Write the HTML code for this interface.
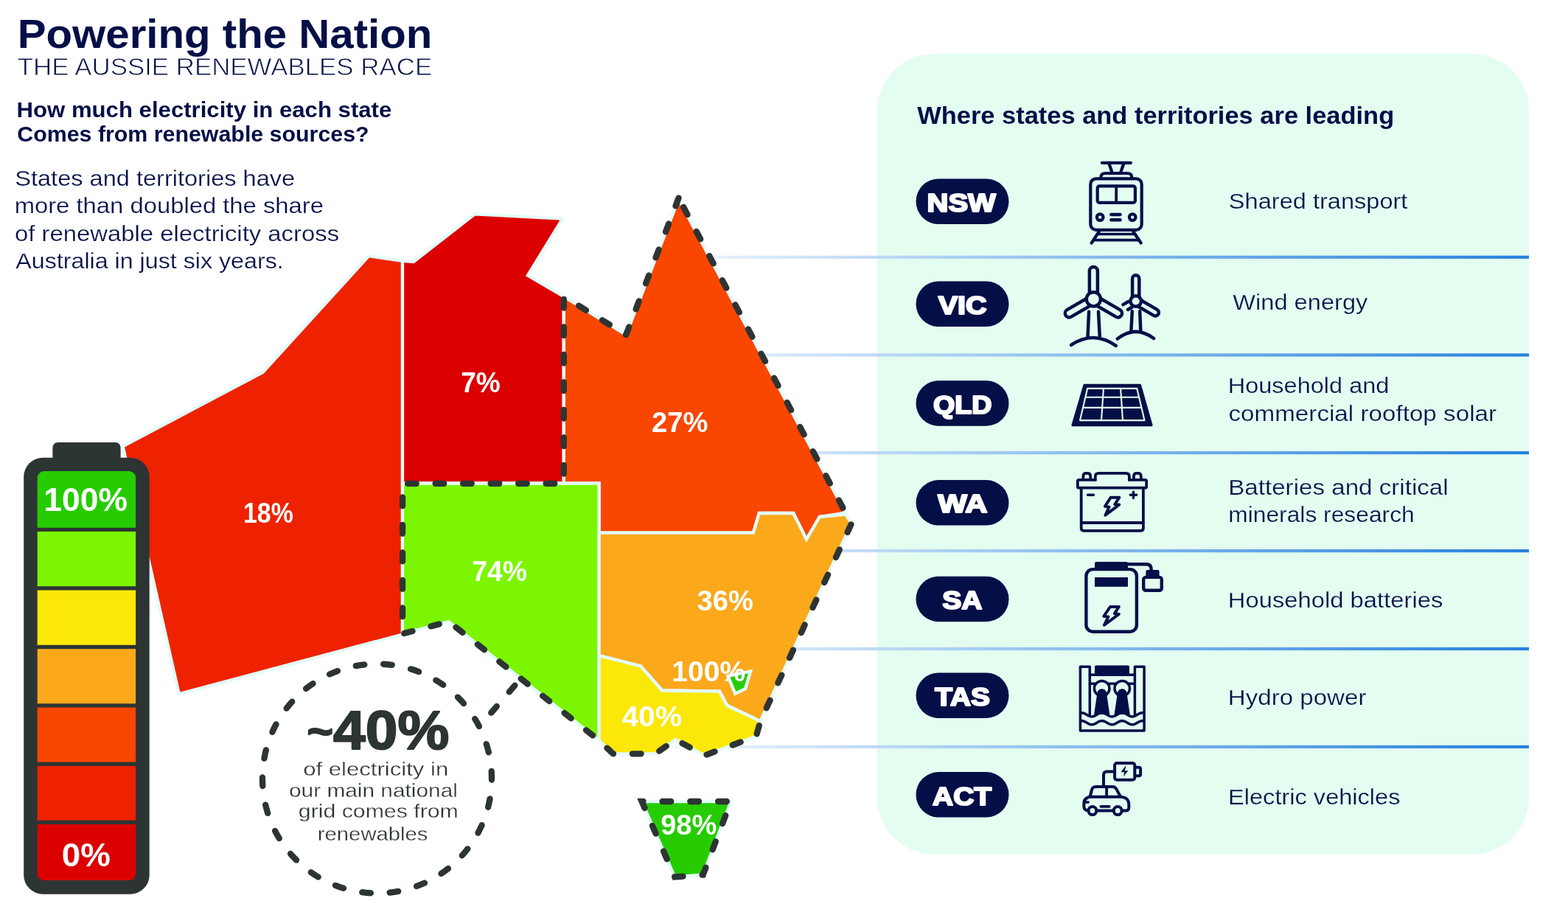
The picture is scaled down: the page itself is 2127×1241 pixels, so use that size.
<!DOCTYPE html>
<html lang="en">
<head>
<meta charset="utf-8">
<title>Powering the Nation - The Aussie Renewables Race</title>
<style>
html,body{margin:0;padding:0;background:#fff;}
body{width:2127px;height:1241px;overflow:hidden;font-family:"Liberation Sans",sans-serif;}
svg{display:block;position:absolute;left:0;top:0;}
text{font-family:"Liberation Sans",sans-serif;}
.b{font-weight:bold;}
.nv{fill:#040f47;}
.w{fill:#fff;font-weight:bold;}
.st{stroke:#e4fbfa;stroke-width:4.3;stroke-linejoin:miter;}
.dash{fill:none;stroke:#2d3434;stroke-width:8.3;stroke-linecap:round;stroke-linejoin:round;stroke-dasharray:11.7 25.8;}
.ic{fill:none;stroke:#040f47;stroke-linecap:round;stroke-linejoin:round;}
.icf{fill:#040f47;stroke:none;}
</style>
</head>
<body>
<svg width="2127" height="1241" viewBox="0 0 2127 1241">
<defs>
<linearGradient id="lg" gradientUnits="userSpaceOnUse" x1="830" y1="0" x2="2074" y2="0">
<stop offset="0" stop-color="#ffffff"/>
<stop offset="0.5" stop-color="#8dbeee"/>
<stop offset="1" stop-color="#2780dd"/>
</linearGradient>
</defs>
<rect width="2127" height="1241" fill="#ffffff"/>

<!-- panel -->
<rect x="1190" y="73.3" width="884" height="1085.4" rx="77" ry="77" fill="#e3fdf0"/>
<rect x="905" y="346.70" width="1169" height="4.2" fill="url(#lg)"/>
<rect x="905" y="479.40" width="1169" height="4.2" fill="url(#lg)"/>
<rect x="905" y="612.00" width="1169" height="4.2" fill="url(#lg)"/>
<rect x="905" y="745.00" width="1169" height="4.2" fill="url(#lg)"/>
<rect x="905" y="877.90" width="1169" height="4.2" fill="url(#lg)"/>
<rect x="905" y="1010.80" width="1169" height="4.2" fill="url(#lg)"/>
<!-- map -->
<g class="st">
<polygon points="166.6,605.3 356.4,505.0 500.3,347.1 546.0,353.8 546.0,860.5 242.8,941.2" fill="#ee2200"/>
<polygon points="546.0,353.8 561.0,355.0 644.0,290.3 763.2,296.7 715.9,373.4 764.8,402.2 764.8,655.5 546.0,655.5" fill="#dd0000"/>
<polygon points="764.8,402.2 849.2,454.1 920.6,270.0 1147.0,695.5 1111.8,701.0 1094.0,731.6 1076.2,696.0 1029.8,696.0 1021.9,722.7 812.6,722.7 812.6,655.5 764.8,655.5" fill="#f94600"/>
<polygon points="546.0,655.5 812.6,655.5 812.6,1004.2 608.6,843.0 546.0,859.7" fill="#7cf500"/>
<polygon points="812.6,722.7 1021.9,722.7 1029.8,696.0 1076.2,696.0 1094.0,731.6 1111.8,701.0 1147.0,697.6 1155.2,709.8 1031.4,978.3 986.2,956.8 976.1,937.7 898.2,936.5 868.9,903.4 812.6,889.1" fill="#fba81b"/>
<polygon points="812.6,889.1 868.9,903.4 898.2,936.5 976.1,937.7 986.2,956.8 1031.4,978.3 1025.7,998.6 955.8,1024.6 916.3,1003.1 889.2,1022.3 831.6,1022.3 812.6,1004.2" fill="#fbe808"/>
<polygon points="870.6,1087.0 991.5,1087.0 953.7,1186.5 915.3,1189.5" fill="#26cc00"/>
<polygon points="987.4,916.9 1018.0,910.6 1011.0,934.3 997.3,940.8" fill="#26cc00" stroke-width="4.4"/>
</g>
<polyline class="dash" points="764.8,402.2 764.8,655.8 546.0,655.8 546.0,859.7 608.6,843.0 812.6,1004.2 831.6,1022.3 889.2,1022.3 916.3,1003.1 955.8,1024.6 1025.7,998.6 1031.4,978.3 1155.2,709.8 1147.0,695.5 920.6,268.5" stroke-dashoffset="-3.6"/>
<polyline class="dash" points="920.6,268.5 849.2,454.1 764.8,402.2"/>
<path class="dash" d="M880,1087 L991.5,1087 L953.7,1186.5 L915.3,1189.5 L870.6,1087 Z" pathLength="375" stroke-dashoffset="19.1" style="stroke-linejoin:miter"/>
<circle class="dash" cx="511.5" cy="1056" r="155.5" pathLength="975" stroke-dashoffset="10.1"/>
<line class="dash" x1="698.4" y1="929.6" x2="666.2" y2="966.7"/>
<text class="w" x="329.98" y="709.0" font-size="38.8" textLength="67.80" lengthAdjust="spacingAndGlyphs">18%</text>
<text class="w" x="625.24" y="532.0" font-size="38.8" textLength="53.58" lengthAdjust="spacingAndGlyphs">7%</text>
<text class="w" x="884.11" y="586.1" font-size="38.8" textLength="76.43" lengthAdjust="spacingAndGlyphs">27%</text>
<text class="w" x="640.13" y="788.0" font-size="38.8" textLength="74.80" lengthAdjust="spacingAndGlyphs">74%</text>
<text class="w" x="945.60" y="827.9" font-size="38.8" textLength="76.23" lengthAdjust="spacingAndGlyphs">36%</text>
<text class="w" x="911.36" y="924.0" font-size="38.8" textLength="99.69" lengthAdjust="spacingAndGlyphs">100%</text>
<text class="w" x="843.40" y="984.8" font-size="38.8" textLength="81.78" lengthAdjust="spacingAndGlyphs">40%</text>
<text class="w" x="896.21" y="1131.9" font-size="38.8" textLength="76.13" lengthAdjust="spacingAndGlyphs">98%</text>
<!-- battery -->
<path d="M71.4,624 V607 a7,7 0 0 1 7,-7 H156.6 a7,7 0 0 1 7,7 V624 Z" fill="#2d3434"/>
<rect x="32.2" y="620.7" width="170.5" height="592" rx="26" ry="26" fill="#2d3434"/>
<path d="M50.7,715.8 V648.1 a9,9 0 0 1 9,-9 H175.1 a9,9 0 0 1 9,9 V715.8 Z" fill="#26cc00"/>
<rect x="50.7" y="720.9" width="133.4" height="74.3" fill="#7cf500"/>
<rect x="50.7" y="800.5" width="133.4" height="74.3" fill="#fbe808"/>
<rect x="50.7" y="880.1" width="133.4" height="74.2" fill="#fba81b"/>
<rect x="50.7" y="959.6" width="133.4" height="73.9" fill="#f94600"/>
<rect x="50.7" y="1038.9" width="133.4" height="73.7" fill="#ee2200"/>
<path d="M50.7,1118.0 V1185.0 a9,9 0 0 0 9,9 H175.1 a9,9 0 0 0 9,-9 V1118.0 Z" fill="#dd0000"/>
<text class="w" x="59.22" y="693.2" font-size="43.8" textLength="113.71" lengthAdjust="spacingAndGlyphs">100%</text>
<text class="w" x="83.77" y="1174.8" font-size="43.8" textLength="66.08" lengthAdjust="spacingAndGlyphs">0%</text>
<!-- headings -->
<text class="b nv" x="23.66" y="65.1" font-size="55.8" textLength="562.75" lengthAdjust="spacingAndGlyphs">Powering the Nation</text>
<text class="nv" x="23.76" y="101.9" font-size="34.0" textLength="562.40" lengthAdjust="spacingAndGlyphs" stroke="#fff" stroke-width="0.8">THE AUSSIE RENEWABLES RACE</text>
<text class="b nv" x="22.55" y="158.9" font-size="29.8" textLength="508.72" lengthAdjust="spacingAndGlyphs">How much electricity in each state</text>
<text class="b nv" x="23.25" y="191.9" font-size="29.8" textLength="477.32" lengthAdjust="spacingAndGlyphs">Comes from renewable sources?</text>
<text class="nv" x="20.28" y="252.1" font-size="29.8" textLength="379.94" lengthAdjust="spacingAndGlyphs" stroke="#fff" stroke-width="0.25">States and territories have</text>
<text class="nv" x="19.65" y="289.1" font-size="29.8" textLength="419.38" lengthAdjust="spacingAndGlyphs" stroke="#fff" stroke-width="0.25">more than doubled the share</text>
<text class="nv" x="19.97" y="326.5" font-size="29.8" textLength="440.15" lengthAdjust="spacingAndGlyphs" stroke="#fff" stroke-width="0.25">of renewable electricity across</text>
<text class="nv" x="21.30" y="363.9" font-size="29.8" textLength="363.41" lengthAdjust="spacingAndGlyphs" stroke="#fff" stroke-width="0.25">Australia in just six years.</text>
<g fill="#2d3434">
<text class="b" x="416.50" y="1016.1" font-size="75" textLength="192.81" lengthAdjust="spacingAndGlyphs" stroke="#2d3434" stroke-width="2" stroke-linejoin="round"><tspan font-size="58" dy="-4.5">~</tspan><tspan dy="4.5">40%</tspan></text>
<text class="" x="411.23" y="1052.4" font-size="26.5" textLength="197.02" lengthAdjust="spacingAndGlyphs" stroke="#fff" stroke-width="0.3">of electricity in</text>
<text class="" x="391.97" y="1080.6" font-size="26.5" textLength="228.90" lengthAdjust="spacingAndGlyphs" stroke="#fff" stroke-width="0.3">our main national</text>
<text class="" x="404.85" y="1109.3" font-size="26.5" textLength="216.91" lengthAdjust="spacingAndGlyphs" stroke="#fff" stroke-width="0.3">grid comes from</text>
<text class="" x="430.87" y="1140.2" font-size="26.5" textLength="149.54" lengthAdjust="spacingAndGlyphs" stroke="#fff" stroke-width="0.3">renewables</text>
</g>
<!-- panel content -->
<text class="b nv" x="1244.20" y="167.5" font-size="32.8" textLength="647.00" lengthAdjust="spacingAndGlyphs">Where states and territories are leading</text>
<rect x="1242.5" y="242.50" width="126" height="61.5" rx="30.75" ry="30.75" fill="#040f47"/>
<text class="w" x="1257.60" y="286.9" font-size="34.8" textLength="93.23" lengthAdjust="spacingAndGlyphs" stroke="#fff" stroke-width="2.2" stroke-linejoin="round">NSW</text>
<rect x="1242.5" y="381.50" width="126" height="61.5" rx="30.75" ry="30.75" fill="#040f47"/>
<text class="w" x="1272.70" y="425.9" font-size="34.8" textLength="65.95" lengthAdjust="spacingAndGlyphs" stroke="#fff" stroke-width="2.2" stroke-linejoin="round">VIC</text>
<rect x="1242.5" y="516.20" width="126" height="61.5" rx="30.75" ry="30.75" fill="#040f47"/>
<text class="w" x="1265.92" y="560.6" font-size="34.8" textLength="79.48" lengthAdjust="spacingAndGlyphs" stroke="#fff" stroke-width="2.2" stroke-linejoin="round">QLD</text>
<rect x="1242.5" y="651.05" width="126" height="61.5" rx="30.75" ry="30.75" fill="#040f47"/>
<text class="w" x="1272.20" y="695.4" font-size="34.8" textLength="67.40" lengthAdjust="spacingAndGlyphs" stroke="#fff" stroke-width="2.2" stroke-linejoin="round">WA</text>
<rect x="1242.5" y="781.70" width="126" height="61.5" rx="30.75" ry="30.75" fill="#040f47"/>
<text class="w" x="1278.29" y="826.1" font-size="34.8" textLength="54.15" lengthAdjust="spacingAndGlyphs" stroke="#fff" stroke-width="2.2" stroke-linejoin="round">SA</text>
<rect x="1242.5" y="912.40" width="126" height="61.5" rx="30.75" ry="30.75" fill="#040f47"/>
<text class="w" x="1268.30" y="956.8" font-size="34.8" textLength="74.62" lengthAdjust="spacingAndGlyphs" stroke="#fff" stroke-width="2.2" stroke-linejoin="round">TAS</text>
<rect x="1242.5" y="1047.05" width="126" height="61.5" rx="30.75" ry="30.75" fill="#040f47"/>
<text class="w" x="1265.09" y="1091.5" font-size="34.8" textLength="79.86" lengthAdjust="spacingAndGlyphs" stroke="#fff" stroke-width="2.2" stroke-linejoin="round">ACT</text>
<text class="nv" x="1666.88" y="283.3" font-size="29.0" textLength="242.51" lengthAdjust="spacingAndGlyphs" stroke="#e3fdf0" stroke-width="0.25">Shared transport</text>
<text class="nv" x="1672.20" y="420.2" font-size="29.0" textLength="183.20" lengthAdjust="spacingAndGlyphs" stroke="#e3fdf0" stroke-width="0.25">Wind energy</text>
<text class="nv" x="1665.66" y="533.3" font-size="29.0" textLength="218.77" lengthAdjust="spacingAndGlyphs" stroke="#e3fdf0" stroke-width="0.25">Household and</text>
<text class="nv" x="1666.46" y="571.1" font-size="29.0" textLength="363.60" lengthAdjust="spacingAndGlyphs" stroke="#e3fdf0" stroke-width="0.25">commercial rooftop solar</text>
<text class="nv" x="1666.21" y="670.8" font-size="29.0" textLength="298.47" lengthAdjust="spacingAndGlyphs" stroke="#e3fdf0" stroke-width="0.25">Batteries and critical</text>
<text class="nv" x="1666.21" y="708.4" font-size="29.0" textLength="252.57" lengthAdjust="spacingAndGlyphs" stroke="#e3fdf0" stroke-width="0.25">minerals research</text>
<text class="nv" x="1665.84" y="823.8" font-size="29.0" textLength="291.48" lengthAdjust="spacingAndGlyphs" stroke="#e3fdf0" stroke-width="0.25">Household batteries</text>
<text class="nv" x="1665.81" y="956.2" font-size="29.0" textLength="187.65" lengthAdjust="spacingAndGlyphs" stroke="#e3fdf0" stroke-width="0.25">Hydro power</text>
<text class="nv" x="1666.06" y="1091.0" font-size="29.0" textLength="233.46" lengthAdjust="spacingAndGlyphs" stroke="#e3fdf0" stroke-width="0.25">Electric vehicles</text>
<!-- icons -->
<g class="ic" stroke-width="4.2">
<path d="M1494.8,220.8 H1533.9"/>
<path d="M1504.7,222.8 L1508.4,233.5 M1524,222.8 L1520.3,233.5"/>
<path d="M1493.4,240.5 Q1493.4,235 1499.5,235 H1529.2 Q1535.3,235 1535.3,240.5"/>
<rect x="1479.3" y="242.4" width="69.4" height="69.4" rx="7.5" ry="7.5"/>
<rect x="1488.7" y="252.4" width="51.2" height="22.4" rx="2.5" ry="2.5"/>
<path d="M1514.2,252.4 V274.8" stroke-width="3.8"/>
<circle cx="1492.2" cy="294.6" r="4.3"/>
<circle cx="1536.2" cy="294.6" r="4.3"/>
<path d="M1507.3,291 H1519.6 M1507.3,298.2 H1519.6" stroke-width="4.4"/>
<path d="M1490.6,314.5 L1480.7,329.5 M1537.6,314.5 L1547.7,329.5"/>
<path d="M1490,317.5 H1538 M1484.5,325.6 H1543.8" stroke-width="3.6"/>
</g>
<g class="ic" stroke-width="4.5">
<g transform="translate(1540.7,408.5)">
<rect x="-4.6" y="-35.3" width="9.2" height="35.3" rx="4.6" ry="4.6"/>
<rect x="-4.6" y="-35.3" width="9.2" height="35.3" rx="4.6" ry="4.6" transform="rotate(120)"/>
<path d="M-4.6,-15 V-9 M4.6,-17.2 V-9" transform="rotate(-120)"/>
<circle cx="0" cy="0" r="7.3" fill="#e3fdf0"/>
</g>
<path d="M1535.8,422.3 L1534.4,448.5 M1546.2,422.3 L1547.3,448.5"/>
<path d="M1515.9,459.5 Q1540.5,440.5 1565.1,459"/>
<g transform="translate(1483.4,405.8)">
<rect x="-5.5" y="-43.7" width="11" height="43.7" rx="5.5" ry="5.5" fill="#e3fdf0" transform="rotate(0)"/>
<rect x="-5.5" y="-43.7" width="11" height="43.7" rx="5.5" ry="5.5" fill="#e3fdf0" transform="rotate(120)"/>
<rect x="-5.5" y="-43.7" width="11" height="43.7" rx="5.5" ry="5.5" fill="#e3fdf0" transform="rotate(240)"/>
<circle cx="0" cy="0" r="9.6" fill="#e3fdf0"/>
</g>
<path d="M1477.1,422.8 L1475.5,456.9 M1490,422.8 L1491.8,456.9"/>
<path d="M1453,467.9 Q1483.4,447.5 1513.8,468.9"/>
</g>
<path d="M1470.9,522.3 H1546.6 L1562.1,576.7 H1454.9 Z" fill="#040f47" stroke="#040f47" stroke-width="3" stroke-linejoin="round"/>
<g fill="none" stroke="#e3fdf0" stroke-width="2.1" stroke-linejoin="round">
<path d="M1475.1,526.9 H1542.3 L1552.5,570.1 H1465 Z"/>
<path d="M1472.3,538.8 H1545.1 M1469,552.9 H1548.4 M1496.9,526.9 L1494,570.1 M1520.1,526.9 L1523,570.1"/>
</g>
<g class="ic" stroke-width="3.8">
<path d="M1485.8,650.9 H1463.8 Q1461.8,650.9 1461.8,652.9 V659.7 Q1461.8,661.7 1463.8,661.7 H1553.2 Q1555.2,661.7 1555.2,659.7 V652.9 Q1555.2,650.9 1553.2,650.9 H1531.9"/>
<path d="M1485.8,650.9 V646.4 Q1485.8,641.9 1490.3,641.9 H1527.4 Q1531.9,641.9 1531.9,646.4 V650.9"/>
<path d="M1469.4,649.5 V645.7 Q1469.4,641.8 1473.3,641.8 H1475.3 Q1479.2,641.8 1479.2,645.7 V649.5 M1538,649.5 V645.7 Q1538,641.8 1541.9,641.8 H1543.9 Q1547.8,641.8 1547.8,645.7 V649.5"/>
<path d="M1466.7,661.7 V716.3 Q1466.7,719.8 1470.2,719.8 H1547.4 Q1550.9,719.8 1550.9,716.3 V661.7"/>
<path d="M1466.7,709 H1550.9"/>
<path d="M1475.5,671.3 H1483.5 M1533.3,671.3 H1541.7 M1537.5,667.1 V675.5" stroke-width="3.4"/>
<path d="M1506.6,674.8 H1518.3 L1512.2,684 L1518.3,684.4 L1499.4,698.8 L1504.6,687.4 L1498.9,686.9 Z" stroke-width="3.9"/>
</g>
<g class="ic" stroke-width="4.4">
<rect x="1473.4" y="772.1" width="68.5" height="84.6" rx="9" ry="9"/>
<path d="M1530,765.3 H1554.9 Q1561.7,765.3 1561.7,772.2 V775"/>
<rect x="1551.2" y="782.9" width="24.6" height="17.8" rx="3" ry="3"/>
<path d="M1505.9,823 H1517.9 L1511.8,832.2 L1517.9,832.9 L1497.9,847.8 L1503.4,836.4 L1497.3,835.9 Z" stroke-width="3.9"/>
</g>
<path class="icf" d="M1485,772 V764.1 a2,2 0 0 1 2,-2 H1528 a2,2 0 0 1 2,2 V772 Z"/>
<rect class="icf" x="1485" y="783" width="45" height="12.8"/>
<path class="icf" d="M1554.4,782 V775 a2,2 0 0 1 2,-2 H1570.6 a2,2 0 0 1 2,2 V782 Z"/>
<g class="ic" stroke-width="3.5">
<path d="M1478.3,969 V904.2 H1465.4 V991.1 H1552.1 V904.2 H1539.4 V969"/>
<path d="M1478.3,915.2 H1539.4 M1478.3,927.3 H1486 M1503.4,927.3 H1513.5 M1530.9,927.3 H1539.4"/>
<circle cx="1494.7" cy="933.8" r="10.3"/>
<circle cx="1522.2" cy="933.8" r="10.3"/>
<path d="M1465.4,966.9 L1467.1,966.7 L1468.8,966.9 L1470.5,967.4 L1472.2,968.2 L1473.9,969.2 L1475.6,970.2 L1477.3,971.0 L1479.0,971.6 L1480.7,971.9 L1482.4,971.8 L1484.1,971.3 L1485.8,970.5 L1487.5,969.5 L1489.2,968.5 L1490.9,967.6 L1492.6,967.0 L1494.3,966.7 L1496.0,966.8 L1497.7,967.3 L1499.4,968.1 L1501.1,969.0 L1502.8,970.0 L1504.5,970.9 L1506.2,971.6 L1507.9,971.9 L1509.6,971.8 L1511.3,971.4 L1513.0,970.6 L1514.7,969.7 L1516.4,968.7 L1518.1,967.8 L1519.8,967.1 L1521.5,966.7 L1523.2,966.8 L1524.9,967.2 L1526.6,967.9 L1528.3,968.8 L1530.0,969.8 L1531.7,970.8 L1533.4,971.5 L1535.1,971.9 L1536.8,971.9 L1538.5,971.5 L1540.2,970.8 L1541.9,969.8 L1543.6,968.8 L1545.3,967.9 L1547.0,967.2 L1548.7,966.8 L1550.4,966.7 L1552.1,967.1" stroke-linecap="butt"/>
<path d="M1465.4,977.8 L1467.1,977.6 L1468.8,977.8 L1470.5,978.3 L1472.2,979.1 L1473.9,980.1 L1475.6,981.1 L1477.3,981.9 L1479.0,982.5 L1480.7,982.8 L1482.4,982.7 L1484.1,982.2 L1485.8,981.4 L1487.5,980.4 L1489.2,979.4 L1490.9,978.5 L1492.6,977.9 L1494.3,977.6 L1496.0,977.7 L1497.7,978.2 L1499.4,979.0 L1501.1,979.9 L1502.8,980.9 L1504.5,981.8 L1506.2,982.5 L1507.9,982.8 L1509.6,982.7 L1511.3,982.3 L1513.0,981.5 L1514.7,980.6 L1516.4,979.6 L1518.1,978.7 L1519.8,978.0 L1521.5,977.6 L1523.2,977.7 L1524.9,978.1 L1526.6,978.8 L1528.3,979.7 L1530.0,980.7 L1531.7,981.7 L1533.4,982.4 L1535.1,982.8 L1536.8,982.8 L1538.5,982.4 L1540.2,981.7 L1541.9,980.7 L1543.6,979.7 L1545.3,978.8 L1547.0,978.1 L1548.7,977.7 L1550.4,977.6 L1552.1,978.0" stroke-linecap="butt"/>
</g>
<path class="icf" d="M1485,915.2 V904.6 a2,2 0 0 1 2,-2 H1530 a2,2 0 0 1 2,2 V915.2 Z"/>
<path class="icf" d="M1488.3,940.6 a6.4,6.4 0 0 1 12.8,0 L1505.3,969 H1484.1 Z"/>
<path class="icf" d="M1515.8,940.6 a6.4,6.4 0 0 1 12.8,0 L1532.8,969 H1511.6 Z"/>
<g class="ic" stroke-width="4">
<rect x="1512.1" y="1035.1" width="27.2" height="22.7" rx="3" ry="3"/>
<path d="M1541.3,1040.7 H1544.8 Q1547.1,1040.7 1547.1,1043 V1050 Q1547.1,1052.3 1544.8,1052.3 H1541.3"/>
<path d="M1512.1,1046.4 H1501.6 Q1497,1046.4 1497,1051 V1066.4"/>
<path d="M1478.9,1079.4 L1480.9,1071.4 Q1482,1066.9 1486.5,1066.9 H1509 Q1512.6,1066.9 1514.4,1070.2 L1519.4,1079.4"/>
<path d="M1501.1,1067 V1080.5" stroke-width="3.8"/>
<path d="M1476.4,1099.6 Q1470.4,1099 1470.4,1094 V1089.5 Q1470.4,1082.6 1478,1080.7 H1520.5 Q1531.3,1081.5 1531.3,1091 V1095.5 Q1531.3,1099.6 1526.5,1099.6 H1521.7 M1487.4,1099.6 H1510.7"/>
<circle cx="1481.9" cy="1099.6" r="5.5"/>
<circle cx="1516.2" cy="1099.6" r="5.5"/>
<path d="M1472.4,1088 H1476.2 M1493.3,1093.9 H1504.8" stroke-width="3.6"/>
</g>
<path class="icf" d="M1526.6,1039.3 L1520.4,1047.2 H1525.2 L1524,1053.2 L1530.4,1045.2 H1525.7 L1527.6,1039.3 Z" stroke="#040f47" stroke-width="3.2" stroke-linejoin="round"/>
</svg>
</body>
</html>
